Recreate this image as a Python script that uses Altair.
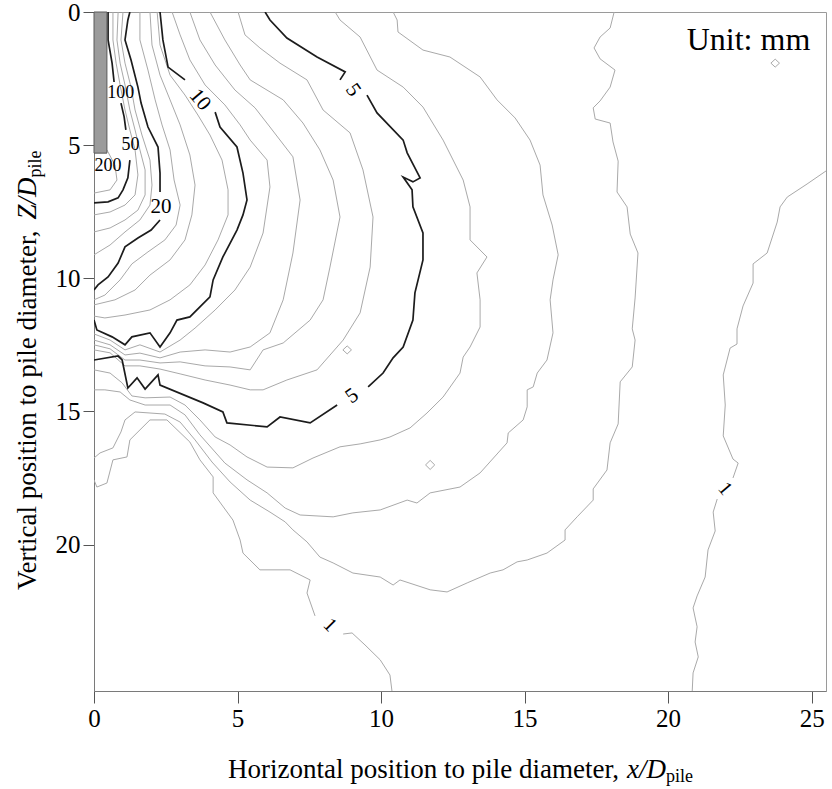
import altair as alt
import pandas as pd

# ---------------- contour polylines (x/D_pile , Z/D_pile) ----------------
# level 1, right branch (split around its label)
C1R_A_X = [25.5, 24.84, 24.15, 23.9, 23.8, 23.45, 22.96, 22.96, 22.61, 22.4, 22.4, 22.16, 21.92, 21.99, 21.92, 22.26, 22.44, 22.26]
C1R_A_Y = [5.97, 6.46, 6.95, 7.32, 7.89, 9.05, 9.46, 10.18, 11.04, 11.9, 12.47, 12.62, 13.63, 14.76, 15.92, 16.79, 16.94, 17.5]
C1R_B_X = [21.71, 21.57, 21.64, 21.39, 21.29, 21.01, 20.87, 21.01, 20.94, 21.05, 20.87, 20.84]
C1R_B_Y = [18.29, 18.78, 19.49, 20.2, 21.22, 21.93, 22.38, 23.09, 23.66, 24.22, 24.82, 25.5]
# level 1, lower-left branch
C1L_A_X = [0, 0.10, 0.45, 0.66, 1.15, 1.25, 1.95, 2.54, 3.34, 3.69, 4.15, 4.15, 4.84, 5.09, 5.19, 5.78, 6.83, 7.53, 7.42, 7.70]
C1L_A_Y = [17.57, 17.84, 17.69, 16.82, 16.71, 16.07, 15.32, 15.32, 16.15, 16.82, 17.46, 18.06, 19.08, 19.83, 20.32, 20.95, 20.95, 21.33, 21.82, 22.68]
C1L_B_X = [8.68, 8.99, 9.44, 9.97, 10.31, 10.38]
C1L_B_Y = [23.36, 23.32, 23.77, 24.33, 24.9, 25.5]
# level 2
C2_X = [18.12, 17.98, 17.63, 17.42, 17.63, 18.15, 17.98, 17.63, 17.39, 17.46, 17.98, 18.08, 18.26, 18.22, 18.57, 18.68,
        18.95, 18.85, 18.75, 18.85, 18.75, 18.33, 18.26, 17.98, 17.87, 17.39, 17.39, 16.83, 16.41, 16.41, 15.78, 15.09,
        14.74, 14.25, 13.80, 13.00, 12.30, 11.71, 10.66, 10.42, 9.97, 9.02, 8.33, 7.87, 7.42, 6.93, 6.66, 6.13, 5.44,
        4.74, 4.11, 3.52, 3.00, 2.47, 1.95, 1.43, 1.08, 0.94, 0.66, 0.21, 0]
C2_Y = [0, 0.60, 0.94, 1.35, 1.76, 2.18, 2.82, 3.34, 3.60, 4.02, 4.17, 4.88, 5.60, 6.76, 7.32, 8.34,
        9.05, 10.74, 11.90, 12.32, 13.33, 13.89, 15.47, 16.18, 17.20, 17.91, 18.33, 18.96, 19.45, 19.83, 20.32, 20.58,
        20.65, 20.95, 21.07, 21.44, 21.78, 21.70, 21.33, 21.52, 21.22, 21.07, 20.69, 20.47, 19.90, 19.45, 19.15, 18.78, 18.33,
        17.65, 16.90, 16.07, 15.40, 15.10, 15.06, 15.02, 15.32, 15.77, 16.37, 16.56, 16.75]
# level 3
C3_X = [10.42, 10.56, 10.59, 11.46, 12.40, 13.45, 14.04, 14.67, 15.19, 15.54, 15.64, 15.96, 16.17, 15.99, 15.89,
        15.99, 15.78, 15.44, 15.30, 15.09, 15.09, 14.95, 14.43, 14.39, 13.45, 12.75, 11.71, 11.25, 10.91, 9.97,
        9.02, 8.33, 7.18, 6.66, 6.03, 5.33, 4.56, 3.69, 3.17, 2.65, 1.78, 1.25, 0.91, 0.38, 0]
C3_Y = [0, 0.30, 0.75, 1.43, 1.69, 2.44, 3.30, 3.98, 4.81, 5.75, 6.87, 8.00, 9.12, 10.06, 10.81,
        12.05, 13.07, 13.56, 14.08, 14.19, 14.83, 15.32, 15.81, 16.18, 17.31, 17.84, 18.06, 18.44, 18.33, 18.70,
        18.81, 18.96, 18.89, 18.63, 18.06, 17.57, 16.94, 15.88, 15.13, 14.76, 14.76, 14.57, 14.27, 14.19, 14.19]
# level 4
C4_X = [8.40, 8.57, 9.27, 9.86, 10.77, 11.46, 12.16, 12.86, 13.10, 13.10, 13.69, 13.34, 13.45, 13.45, 13.10, 12.86,
        12.75, 12.16, 11.60, 11.01, 10.31, 9.97, 9.27, 8.57, 7.63, 6.93, 6.03, 5.33, 4.74, 4.22, 3.69, 3.17, 2.65,
        1.78, 1.32, 0.98, 0.56, 0]
C4_Y = [0, 0.30, 0.94, 2.18, 2.82, 3.57, 4.81, 6.31, 7.32, 8.56, 9.20, 9.80, 10.81, 11.83, 12.58, 12.96,
        13.56, 14.46, 15.06, 15.62, 15.96, 16.07, 16.22, 16.33, 16.75, 17.12, 17.09, 16.71, 16.26, 15.96, 15.32, 14.76, 14.46,
        14.49, 14.42, 13.93, 13.56, 13.44]
# level 5 (black, split around two labels)
C5_A_X = [5.96, 6.13, 6.72, 7.77, 8.75, 8.57]
C5_A_Y = [0, 0.30, 0.98, 1.69, 2.25, 2.55]
C5_B_X = [9.51, 9.86, 10.77, 10.91, 11.36, 11.11, 10.77, 11.08, 11.11, 11.46, 11.46, 11.18, 11.11, 10.77, 10.42, 10.07, 9.55]
C5_B_Y = [3.12, 3.79, 4.81, 5.29, 6.23, 6.38, 6.20, 6.68, 7.32, 8.30, 9.31, 10.55, 11.57, 12.58, 12.99, 13.56, 14.08]
C5_C_X = [8.47, 7.53, 6.48, 6.03, 4.63, 4.49, 3.80, 2.30, 2.23, 1.78, 1.50, 1.18, 0.98, 0.84, 0]
C5_C_Y = [14.76, 15.43, 15.21, 15.58, 15.43, 15.02, 14.68, 14.01, 13.63, 14.16, 13.74, 14.12, 13.07, 12.92, 13.07]
# levels 6-9
C6_X = [5.02, 5.26, 5.78, 6.48, 7.42, 7.98, 8.92, 9.37, 9.72, 9.62, 9.27, 8.68, 7.77, 6.72, 5.89, 5.44, 4.74, 3.87, 3.00, 2.30, 1.60, 1.08, 0.56, 0]
C6_Y = [0, 0.86, 1.35, 1.92, 2.55, 3.68, 4.54, 5.93, 7.70, 9.58, 11.30, 12.32, 13.44, 13.82, 14.19, 14.19, 14.01, 13.82, 13.59, 13.41, 13.29, 13.29, 12.80, 12.69]
C7_X = [4.04, 4.56, 5.09, 5.44, 6.59, 7.28, 7.87, 8.33, 8.57, 8.22, 7.98, 7.53, 6.59, 5.89, 5.44, 4.74, 3.87, 3.00, 2.30, 1.60, 1.08, 0.56, 0]
C7_Y = [0, 1.05, 1.99, 2.55, 3.30, 4.17, 5.18, 6.31, 7.70, 9.58, 10.81, 11.57, 12.43, 12.69, 13.44, 13.33, 13.29, 13.14, 13.18, 13.07, 13.07, 12.65, 12.50]
C8_X = [3.34, 3.69, 4.22, 4.91, 5.61, 6.13, 6.93, 7.18, 6.93, 6.59, 6.13, 5.44, 4.74, 3.87, 3.00, 2.30, 1.60, 1.08, 0.56, 0]
C8_Y = [0, 1.05, 1.99, 2.93, 3.60, 4.32, 5.44, 7.06, 9.05, 10.81, 12.05, 12.58, 12.77, 12.69, 12.77, 12.99, 12.81, 12.88, 12.50, 12.32]
C9_X = [2.72, 3.00, 3.34, 3.87, 4.56, 5.09, 5.44, 6.03, 6.13, 5.89, 5.44, 4.91, 4.22, 3.52, 3.00, 2.30, 1.60, 1.08, 0.56, 0]
C9_Y = [0, 0.86, 1.80, 2.74, 3.49, 4.24, 4.81, 5.56, 6.57, 8.30, 9.58, 10.44, 11.19, 11.87, 12.32, 12.77, 12.50, 12.69, 12.32, 12.09]
# level 10 (black)
C10_A_X = [2.30, 2.40, 2.58, 3.17]
C10_A_Y = [0, 1.05, 2.07, 2.55]
C10_B_X = [4.22, 4.39, 4.98, 5.19, 5.33, 5.19, 4.98, 4.49, 4.15, 4.04, 3.34, 2.89, 2.65, 2.30, 1.95, 1.32, 1.08, 0.63, 0.10, 0]
C10_B_Y = [3.76, 4.32, 5.07, 6.05, 7.06, 7.62, 8.19, 9.20, 10.06, 10.70, 11.45, 11.57, 12.05, 12.58, 12.05, 12.20, 12.50, 12.20, 11.94, 11.57]
# levels between 10 and 20
G15A_X = [1.60, 1.60, 1.88, 2.13, 2.37, 2.65, 2.79, 3.00, 2.86, 2.47, 1.88, 1.32, 0.91, 0.38, 0]
G15A_Y = [0, 1.05, 2.18, 3.30, 4.24, 5.18, 6.31, 7.25, 8.00, 8.56, 9.01, 9.46, 10.06, 10.63, 10.81]
G15B_X = [1.95, 2.02, 2.30, 2.65, 3.00, 3.34, 3.52, 3.41, 3.17, 2.65, 1.95, 1.43, 0.73, 0]
G15B_Y = [0, 1.24, 2.37, 3.30, 4.24, 5.37, 6.50, 7.62, 8.56, 9.31, 9.88, 10.44, 10.81, 11.00]
G15C_X = [2.20, 2.30, 2.65, 3.17, 3.62, 4.04, 4.46, 4.67, 4.67, 4.32, 3.87, 3.34, 2.65, 1.95, 1.08, 0.38, 0]
G15C_Y = [0, 1.24, 2.37, 3.12, 3.87, 4.62, 5.56, 6.68, 7.62, 8.56, 9.50, 10.25, 10.81, 11.19, 11.38, 11.49, 11.42]
# level 20 (black)
C20_A_X = [1.25, 1.18, 1.08, 1.29, 1.53, 1.64, 1.88, 2.23, 2.30, 2.30]
C20_A_Y = [0, 0.30, 1.05, 1.80, 2.82, 3.42, 4.32, 5.07, 6.05, 6.76]
C20_B_X = [2.30, 1.99, 1.53, 1.08, 0.84, 0.49, 0.14, 0]
C20_B_Y = [7.81, 8.19, 8.49, 8.82, 9.43, 9.95, 10.25, 10.44]
# levels 30, 40 and others near the pile
C30_X = [1.01, 0.94, 1.08, 1.29, 1.43, 1.67, 1.95, 2.02, 1.95, 1.60, 1.08, 0.56, 0]
C30_Y = [0, 1.05, 1.92, 2.82, 3.68, 4.62, 5.56, 6.50, 7.25, 7.81, 8.26, 8.75, 9.12]
C40_X = [0.84, 0.80, 0.91, 1.08, 1.25, 1.43, 1.60, 1.78, 1.78, 1.53, 1.08, 0.56, 0]
C40_Y = [0, 1.05, 1.92, 2.74, 3.68, 4.43, 5.18, 5.93, 6.87, 7.44, 7.81, 8.11, 8.26]
GC_X = [0.66, 0.66, 0.77, 0.91, 1.08, 1.25, 1.43, 1.53, 1.43, 1.08, 0.56, 0]
GC_Y = [0, 1.05, 1.92, 2.74, 3.68, 4.43, 5.18, 6.12, 6.87, 7.25, 7.51, 7.62]
GA_X = [0.45, 0.73, 0.80, 0.56, 0]
GA_Y = [5.18, 5.75, 6.31, 6.68, 6.80]
# level 50 (black)
C50_A_X = [0.49, 0.49, 0.63, 0.70]
C50_A_Y = [0, 1.05, 1.92, 2.63]
C50_B_X = [0.94, 1.05, 1.11]
C50_B_Y = [3.42, 3.94, 4.43]
C50_C_X = [1.25, 1.18, 1.01, 0.84, 0.49, 0]
C50_C_Y = [5.56, 6.23, 6.68, 6.98, 7.13, 7.17]
# small closed islands
D1_X = [11.55, 11.71, 11.87, 11.71, 11.55]
D1_Y = [17.01, 16.84, 17.01, 17.18, 17.01]
D2_X = [8.67, 8.82, 8.97, 8.82, 8.67]
D2_Y = [12.69, 12.54, 12.69, 12.84, 12.69]
D3_X = [23.58, 23.73, 23.88, 23.73, 23.58]
D3_Y = [1.92, 1.77, 1.92, 2.07, 1.92]

# contour labels
LBL_TEXT = ["5", "5", "10", "20", "50", "100", "200", "1", "1"]
LBL_X = [9.02, 8.99, 3.69, 2.33, 1.27, 0.93, 0.49, 21.98, 8.22]
LBL_Y = [2.93, 14.42, 3.30, 7.32, 4.99, 3.04, 5.78, 17.9, 23.02]
LBL_ANGLE = [55, 325, 50, 0, 0, 0, 0, 50, 45]
LBL_SIZE = [21, 21, 21, 21, 18, 18, 18, 20, 20]

# pile
PILE_X = [0.0]
PILE_X2 = [0.45]
PILE_Y = [0.0]
PILE_Y2 = [5.3]

# tick values
X_TICKS = [0, 5, 10, 15, 20, 25]
Y_TICKS = [0, 5, 10, 15, 20]

GRAY_LINES = [
    ("c1r_a", C1R_A_X, C1R_A_Y), ("c1r_b", C1R_B_X, C1R_B_Y),
    ("c1l_a", C1L_A_X, C1L_A_Y), ("c1l_b", C1L_B_X, C1L_B_Y),
    ("c2", C2_X, C2_Y), ("c3", C3_X, C3_Y), ("c4", C4_X, C4_Y),
    ("c6", C6_X, C6_Y), ("c7", C7_X, C7_Y), ("c8", C8_X, C8_Y), ("c9", C9_X, C9_Y),
    ("g15a", G15A_X, G15A_Y), ("g15b", G15B_X, G15B_Y), ("g15c", G15C_X, G15C_Y),
    ("c30", C30_X, C30_Y), ("c40", C40_X, C40_Y), ("gc", GC_X, GC_Y), ("ga", GA_X, GA_Y),
    ("d1", D1_X, D1_Y), ("d2", D2_X, D2_Y), ("d3", D3_X, D3_Y),
]
BLACK_LINES = [
    ("c5_a", C5_A_X, C5_A_Y), ("c5_b", C5_B_X, C5_B_Y), ("c5_c", C5_C_X, C5_C_Y),
    ("c10_a", C10_A_X, C10_A_Y), ("c10_b", C10_B_X, C10_B_Y),
    ("c20_a", C20_A_X, C20_A_Y), ("c20_b", C20_B_X, C20_B_Y),
    ("c50_a", C50_A_X, C50_A_Y), ("c50_b", C50_B_X, C50_B_Y), ("c50_c", C50_C_X, C50_C_Y),
]


def build(lines):
    rows = []
    for name, xs, ys in lines:
        assert len(xs) == len(ys), name
        for i, (x, y) in enumerate(zip(xs, ys)):
            rows.append({"seg": name, "i": i, "x": x, "y": y})
    return pd.DataFrame(rows)


FONT = "Liberation Serif"
xscale = alt.Scale(domain=[0, 25.5], nice=False, zero=False)
yscale = alt.Scale(domain=[0, 25.5], nice=False, zero=False, reverse=True)
xaxis = alt.Axis(values=X_TICKS, title=None, tickSize=12)
yaxis = alt.Axis(values=Y_TICKS, title=None, tickSize=11)

gray = alt.Chart(build(GRAY_LINES)).mark_line(color="#a9a9a9", strokeWidth=1, clip=True).encode(
    x=alt.X("x:Q", scale=xscale, axis=xaxis),
    y=alt.Y("y:Q", scale=yscale, axis=yaxis),
    detail="seg:N",
    order="i:Q",
)
black = alt.Chart(build(BLACK_LINES)).mark_line(color="#1c1c1c", strokeWidth=1.7, clip=True).encode(
    x="x:Q", y="y:Q", detail="seg:N", order="i:Q"
)
pile = alt.Chart(pd.DataFrame({"x": PILE_X, "x2": PILE_X2, "y": PILE_Y, "y2": PILE_Y2})).mark_rect(
    fill="#9b9b9b", stroke="#5a5a5a", strokeWidth=1
).encode(x="x:Q", x2="x2", y="y:Q", y2="y2")

labels = alt.Chart(pd.DataFrame({"t": LBL_TEXT, "x": LBL_X, "y": LBL_Y, "a": LBL_ANGLE, "fs": LBL_SIZE})).mark_text(
    font=FONT, color="black", align="center", baseline="middle"
).encode(
    x="x:Q", y="y:Q", text="t:N",
    angle=alt.Angle("a:Q", scale=None),
    size=alt.Size("fs:Q", scale=None),
)

unit = alt.Chart(pd.DataFrame({"x": [22.8], "y": [1.05], "t": ["Unit: mm"]})).mark_text(
    font=FONT, fontSize=32, color="black", align="center", baseline="middle"
).encode(x="x:Q", y="y:Q", text="t:N")


def txt(text, px, py, size, angle=0, style="normal"):
    return alt.Chart(pd.DataFrame({"k": [0]})).mark_text(
        text=text, align="left", baseline="alphabetic", font=FONT, fontSize=size,
        fontStyle=style, angle=angle, color="black"
    ).encode(x=alt.value(px), y=alt.value(py))


titles = [
    txt("Horizontal position to pile diameter,", 134, 766, 27),
    txt("x/D", 533, 766, 27, style="italic"),
    txt("pile", 572, 770, 18),
    txt("Vertical position to pile diameter,", -58, 578, 27, angle=270),
    txt("Z/D", -58, 207.5, 27, angle=270, style="italic"),
    txt("pile", -53, 165.5, 18, angle=270),
]

chart = alt.layer(gray, black, pile, labels, unit, *titles).properties(
    width=732, height=679,
    padding={"left": 94, "top": 12, "right": 6, "bottom": 98},
    autosize=alt.AutoSizeParams(type="none"),
).configure_view(stroke="#9a9a9a", strokeWidth=1).configure_axis(
    labelFont=FONT, labelFontSize=25, labelColor="black", labelPadding=3,
    tickColor="#555555", domainColor="#7a7a7a", grid=False,
    labelFlush=False, labelOverlap=False,
)

chart.save("out.html", embed_options={"renderer": "svg", "actions": False})
